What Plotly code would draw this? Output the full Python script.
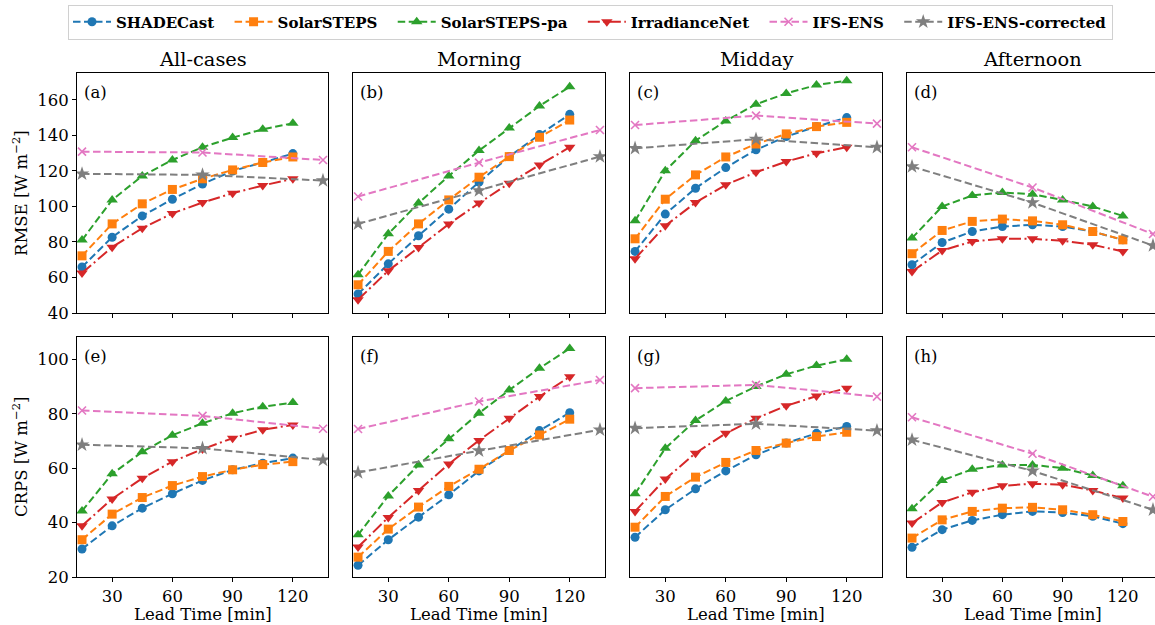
import plotly.graph_objects as go

# ---------------- data ----------------
lead = [15, 30, 45, 60, 75, 90, 105, 120]
lead_ifs = [15, 75, 135]

methods = ["SHADECast", "SolarSTEPS", "SolarSTEPS-pa", "IrradianceNet", "IFS-ENS", "IFS-ENS-corrected"]
column_titles = ["All-cases", "Morning", "Midday", "Afternoon"]
panel_labels = ["(a)", "(b)", "(c)", "(d)", "(e)", "(f)", "(g)", "(h)"]
x_tick_values = [30, 60, 90, 120]
rmse_ticks = [40, 60, 80, 100, 120, 140, 160]
crps_ticks = [20, 40, 60, 80, 100]

rmse_all = {
    "SHADECast": [65.9, 82.7, 94.7, 104.1, 112.7, 120.0, 124.8, 129.8],
    "SolarSTEPS": [72.2, 90.2, 101.5, 109.6, 115.6, 120.6, 124.8, 127.9],
    "SolarSTEPS-pa": [81.1, 103.7, 117.2, 126.2, 133.4, 138.8, 143.5, 146.9],
    "IrradianceNet": [62.5, 77.1, 87.8, 96.1, 102.2, 107.5, 111.8, 115.6],
    "IFS-ENS": [130.9, 130.4, 126.2],
    "IFS-ENS-corrected": [118.4, 117.8, 114.6],
}
rmse_morning = {
    "SHADECast": [50.7, 67.7, 83.5, 98.5, 113.7, 128.1, 140.5, 151.9],
    "SolarSTEPS": [55.9, 74.7, 90.2, 103.7, 116.5, 128.1, 139.0, 148.7],
    "SolarSTEPS-pa": [61.6, 84.6, 101.9, 117.2, 131.5, 144.2, 156.6, 167.5],
    "IrradianceNet": [47.5, 63.8, 76.9, 90.1, 101.9, 113.1, 123.4, 133.4],
    "IFS-ENS": [105.6, 124.7, 143.1],
    "IFS-ENS-corrected": [90.2, 109.0, 128.1],
}
rmse_midday = {
    "SHADECast": [74.7, 95.7, 110.3, 121.9, 131.9, 139.4, 145.0, 150.1],
    "SolarSTEPS": [81.8, 104.1, 117.8, 127.9, 135.2, 140.9, 145.0, 147.4],
    "SolarSTEPS-pa": [91.9, 120.1, 137.1, 148.2, 157.6, 163.7, 168.4, 170.9],
    "IrradianceNet": [70.6, 89.1, 102.2, 112.2, 119.3, 125.3, 130.0, 133.4],
    "IFS-ENS": [145.9, 151.2, 146.7],
    "IFS-ENS-corrected": [132.8, 137.9, 133.4],
}
rmse_afternoon = {
    "SHADECast": [67.2, 79.7, 85.9, 88.7, 89.7, 88.7, 85.9, 81.2],
    "SolarSTEPS": [73.4, 86.5, 91.6, 92.9, 91.9, 89.7, 85.9, 81.2],
    "SolarSTEPS-pa": [82.2, 100.0, 106.2, 107.9, 106.9, 103.7, 100.0, 94.7],
    "IrradianceNet": [63.4, 75.2, 80.3, 81.8, 81.8, 80.7, 78.4, 74.7],
    "IFS-ENS": [133.4, 110.7, 84.5],
    "IFS-ENS-corrected": [122.5, 102.2, 78.0],
}
crps_all = {
    "SHADECast": [30.3, 38.8, 45.3, 50.6, 55.5, 59.4, 61.8, 63.7],
    "SolarSTEPS": [33.7, 43.1, 49.2, 53.6, 56.9, 59.4, 61.3, 62.4],
    "SolarSTEPS-pa": [44.3, 57.9, 66.0, 72.1, 76.5, 80.2, 82.6, 84.1],
    "IrradianceNet": [38.8, 48.7, 56.3, 62.4, 67.0, 71.0, 74.1, 75.9],
    "IFS-ENS": [81.2, 79.2, 74.5],
    "IFS-ENS-corrected": [68.6, 67.3, 63.0],
}
crps_morning = {
    "SHADECast": [24.3, 33.7, 42.0, 50.2, 59.0, 66.5, 73.8, 80.4],
    "SolarSTEPS": [27.3, 37.6, 45.7, 53.3, 59.6, 66.5, 72.2, 78.0],
    "SolarSTEPS-pa": [35.5, 49.8, 61.2, 70.8, 80.2, 88.7, 96.7, 104.0],
    "IrradianceNet": [31.0, 41.9, 51.8, 61.5, 70.2, 78.3, 86.3, 93.6],
    "IFS-ENS": [74.4, 84.5, 92.4],
    "IFS-ENS-corrected": [58.4, 66.4, 74.1],
}
crps_midday = {
    "SHADECast": [34.6, 44.7, 52.4, 59.0, 64.9, 69.2, 72.8, 75.3],
    "SolarSTEPS": [38.3, 49.6, 56.7, 62.1, 66.5, 69.2, 71.6, 73.2],
    "SolarSTEPS-pa": [50.6, 67.3, 77.5, 84.7, 90.0, 94.5, 97.7, 100.0],
    "IrradianceNet": [44.1, 56.0, 65.5, 72.8, 78.3, 82.9, 86.5, 89.4],
    "IFS-ENS": [89.4, 90.6, 86.3],
    "IFS-ENS-corrected": [74.7, 76.3, 73.8],
}
crps_afternoon = {
    "SHADECast": [30.9, 37.4, 40.8, 42.9, 44.1, 43.7, 42.3, 39.6],
    "SolarSTEPS": [34.3, 41.0, 44.1, 45.3, 45.6, 44.7, 42.9, 40.4],
    "SolarSTEPS-pa": [45.1, 55.5, 59.6, 61.2, 61.2, 60.0, 57.3, 53.5],
    "IrradianceNet": [39.8, 47.4, 51.1, 53.5, 54.3, 53.9, 51.8, 49.0],
    "IFS-ENS": [78.7, 65.3, 49.5],
    "IFS-ENS-corrected": [70.4, 59.0, 44.7],
}

panels = [rmse_all, rmse_morning, rmse_midday, rmse_afternoon,
          crps_all, crps_morning, crps_midday, crps_afternoon]

# ---------------- styles ----------------
colors = {
    "SHADECast": "#1f77b4",
    "SolarSTEPS": "#ff7f0e",
    "SolarSTEPS-pa": "#2ca02c",
    "IrradianceNet": "#d62728",
    "IFS-ENS": "#e377c2",
    "IFS-ENS-corrected": "#7f7f7f",
}
dash_std = "7.5px,3.5px"
dashes = {
    "SHADECast": dash_std,
    "SolarSTEPS": dash_std,
    "SolarSTEPS-pa": dash_std,
    "IrradianceNet": "12px,3.5px,2px,3.5px",
    "IFS-ENS": dash_std,
    "IFS-ENS-corrected": dash_std,
}
symbols = {
    "SHADECast": ("circle", 9),
    "SolarSTEPS": ("square", 9),
    "SolarSTEPS-pa": ("triangle-up", 10),
    "IrradianceNet": ("triangle-down", 10),
    "IFS-ENS": ("x-thin", 8),
    "IFS-ENS-corrected": ("star", 11),
}

W, H = 1155, 625
FONT = "DejaVu Serif"
xdom_px = [(77, 328), (353, 605), (630, 882), (907, 1155)]
ydom_px = [(73, 313), (337, 577)]
xranges = [[12.5, 137.5], [12.5, 137.5], [12.5, 137.5], [12.5, 136.0]]
yranges = [[40, 175.2], [20, 108.2]]
PAD = "\u00a0\u00a0"

fig = go.Figure()
layout = {}
annotations = []

for i, data in enumerate(panels):
    r, c = divmod(i, 4)
    n = i + 1
    xa = "x" if n == 1 else f"x{n}"
    ya = "y" if n == 1 else f"y{n}"
    for k, m in enumerate(methods):
        xs = lead_ifs if m.startswith("IFS") else lead
        sym, sz = symbols[m]
        label = m + (PAD if k < len(methods) - 1 else "")
        fig.add_trace(go.Scatter(
            x=xs, y=data[m], xaxis=xa, yaxis=ya,
            mode="lines+markers", name=label, legendgroup=m,
            showlegend=(i == 0),
            line=dict(color=colors[m], width=2, dash=dashes[m]),
            marker=dict(symbol=sym, size=sz, color=colors[m],
                        line=dict(width=1.6 if sym == "x-thin" else 0, color=colors[m])),
        ))
    x0, x1 = xdom_px[c]
    y0, y1 = ydom_px[r]
    layout["xaxis" + ("" if n == 1 else str(n))] = dict(
        domain=[x0 / W, x1 / W], range=xranges[c], anchor=ya,
        showline=True, mirror=True, linecolor="black", linewidth=1,
        ticks="outside", ticklen=4, tickcolor="black",
        tickvals=x_tick_values, showticklabels=(r == 1),
        tickfont=dict(family=FONT, size=16.5, color="black"),
        showgrid=False, zeroline=False, automargin=False,
    )
    layout["yaxis" + ("" if n == 1 else str(n))] = dict(
        domain=[1 - y1 / H, 1 - y0 / H], range=yranges[r], anchor=xa,
        showline=True, mirror=True, linecolor="black", linewidth=1,
        ticks="outside" if c == 0 else "", ticklen=4, tickcolor="black",
        tickvals=rmse_ticks if r == 0 else crps_ticks, showticklabels=(c == 0),
        tickfont=dict(family=FONT, size=16.5, color="black"),
        showgrid=False, zeroline=False, automargin=False,
    )
    annotations.append(dict(
        text=panel_labels[i], xref=f"{xa} domain", yref=f"{ya} domain",
        x=0.02, y=0.965, xanchor="left", yanchor="top", showarrow=False,
        font=dict(family=FONT, size=16.5, color="black"),
    ))
    if r == 0:
        annotations.append(dict(
            text=column_titles[c], xref="paper", yref="paper",
            x=((x0 + min(x1, 1158)) / 2 + (1.5 if c == 3 else 0)) / W, y=1 - 60 / H,
            xanchor="center", yanchor="middle", showarrow=False,
            font=dict(family=FONT, size=19.4, color="black"),
        ))
    else:
        annotations.append(dict(
            text="Lead Time [min]", xref="paper", yref="paper",
            x=((x0 + (x1 if c < 3 else 1158)) / 2) / W, y=1 - 614 / H,
            xanchor="center", yanchor="middle", showarrow=False,
            font=dict(family=FONT, size=16.5, color="black"),
        ))

annotations.append(dict(
    text="RMSE [W m<sup>\u22122</sup>]", xref="paper", yref="paper",
    x=20 / W, y=1 - 193 / H, textangle=-90, xanchor="center", yanchor="middle",
    showarrow=False, font=dict(family=FONT, size=16.5, color="black"),
))
annotations.append(dict(
    text="CRPS [W m<sup>\u22122</sup>]", xref="paper", yref="paper",
    x=20 / W, y=1 - 457 / H, textangle=-90, xanchor="center", yanchor="middle",
    showarrow=False, font=dict(family=FONT, size=16.5, color="black"),
))

fig.update_layout(
    width=W, height=H, autosize=False,
    margin=dict(l=0, r=0, t=0, b=0, pad=0, autoexpand=False),
    paper_bgcolor="white", plot_bgcolor="white",
    annotations=annotations,
    legend=dict(
        orientation="h", x=68 / W, xanchor="left", y=1 - 22 / H, yanchor="middle",
        font=dict(family=FONT, size=15, color="black", weight="bold"),
        bordercolor="#d0d0d0", borderwidth=1, bgcolor="white",
        itemwidth=38, tracegroupgap=0,
    ),
    **layout,
)

fig.write_html("out.html")
